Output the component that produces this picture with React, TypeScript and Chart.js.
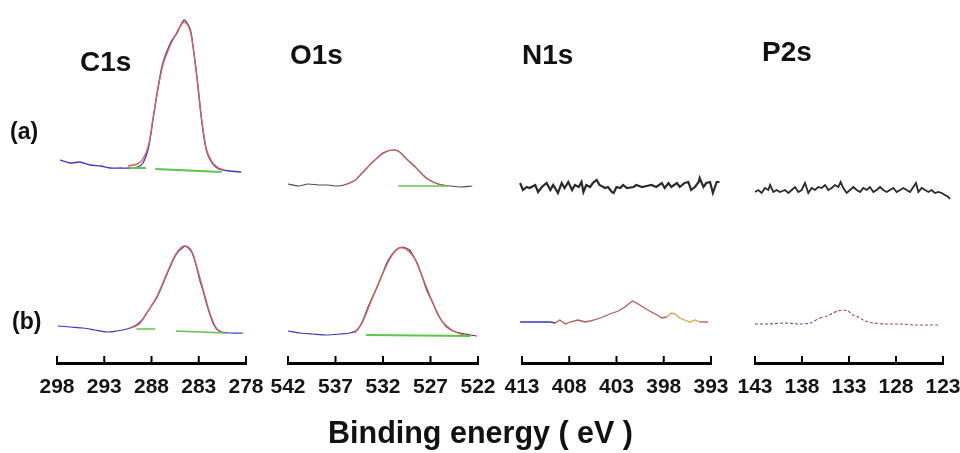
import React, { useEffect, useRef } from "react";
import { Chart, registerables } from "chart.js";
Chart.register(...registerables);

// ---------- tick labels (binding energy, eV) ----------
const C1S_TICKS = [298, 293, 288, 283, 278];
const O1S_TICKS = [542, 537, 532, 527, 522];
const N1S_TICKS = [413, 408, 403, 398, 393];
const P2S_TICKS = [143, 138, 133, 128, 123];

// ---------- C1s ----------
const c1sA_E = [297.7, 296.6, 295.6, 294.5, 293.4, 292.4, 291.3, 290.3, 289.5, 288.9, 288.3, 287.8, 287.3, 286.8, 286.0, 285.3, 284.8, 284.5, 284.1, 283.8, 283.2, 282.7, 282.2, 281.6, 280.9, 279.7, 278.5];
const c1sA_I = [203, 200, 201, 198, 197, 195, 195, 195, 196, 200, 216, 246, 276, 300, 320, 330, 340, 343, 338, 330, 286, 243, 213, 200, 194, 192, 191];
const c1sAFit_E = [290.5, 289.5, 288.9, 288.3, 287.8, 287.3, 286.8, 286.0, 285.3, 284.8, 284.5, 284.1, 283.8, 283.2, 282.7, 282.2, 281.6, 280.9, 280.3];
const c1sAFit_I = [197, 199, 204, 218, 247, 275, 298, 318, 331, 339, 341, 337, 328, 287, 244, 214, 201, 195, 193];
const c1sABase_E = [290.3, 288.6, 288.0, 287.6, 280.6];
const c1sABase_I = [195, 195, null, 194, 191];

const c1sB_E = [297.9, 296.6, 295.2, 294.0, 292.7, 291.7, 290.6, 289.6, 289.0, 288.5, 287.4, 286.4, 285.7, 285.2, 284.6, 284.5, 284.1, 283.7, 283.2, 282.9, 282.5, 282.2, 281.8, 281.5, 281.1, 280.6, 279.7, 278.3];
const c1sB_I = [37, 36, 35, 33, 31, 32, 34, 38, 43, 50, 66, 88, 103, 111, 116, 117, 115, 110, 95, 83, 71, 60, 48, 40, 34, 31, 30, 30];
const c1sBFit_E = [290.2, 289.3, 288.5, 287.4, 286.4, 285.7, 285.2, 284.6, 284.1, 283.7, 283.2, 282.5, 281.8, 281.1, 280.4];
const c1sBFit_I = [35, 39, 50, 67, 89, 104, 112, 117, 116, 111, 96, 72, 49, 34, 30];
const c1sBBase_E = [289.6, 287.6, 287.0, 285.4, 280.2];
const c1sBBase_I = [34, 34, null, 32, 30];

// ---------- O1s ----------
const o1sA_E = [542.0, 540.9, 539.9, 538.8, 537.8, 536.7, 535.8, 534.9, 534.4, 533.7, 533.1, 532.5, 532.0, 531.5, 530.9, 530.4, 529.9, 529.4, 528.8, 528.3, 527.8, 527.3, 526.7, 526.2, 525.7, 524.9, 523.9, 522.6];
const o1sA_I = [179, 177, 179, 178, 178, 177, 179, 183, 188, 195, 201, 206, 210, 212, 213, 212, 208, 203, 198, 193, 188, 184, 181, 179, 178, 177, 176, 177];
const o1sAFit_E = [536.0, 534.9, 533.7, 532.5, 531.5, 530.9, 530.4, 529.4, 528.3, 527.3, 526.2, 525.2];
const o1sAFit_I = [178, 183, 195, 206, 212, 213, 212, 203, 193, 184, 179, 177];
const o1sABase_E = [530.4, 525.3];
const o1sABase_I = [177, 177];

const o1sB_E = [542.0, 540.7, 539.4, 537.9, 536.5, 535.5, 534.7, 534.2, 533.7, 533.2, 532.6, 532.1, 531.6, 531.1, 530.5, 530.0, 529.6, 529.2, 528.7, 528.4, 527.9, 527.4, 526.8, 526.3, 525.8, 525.3, 524.6, 523.9, 522.8, 522.1];
const o1sB_I = [32, 30, 29, 28, 29, 30, 33, 41, 53, 64, 76, 88, 100, 108, 114, 116, 115, 113, 105, 100, 87, 73, 61, 50, 42, 36, 32, 30, 28, 27];
const o1sBFit_E = [535.0, 534.2, 533.2, 532.1, 531.1, 530.3, 529.6, 528.7, 527.9, 526.8, 525.8, 524.6, 523.5];
const o1sBFit_I = [30, 40, 63, 88, 107, 115, 114, 105, 87, 61, 42, 32, 28];
const o1sBBase_E = [533.8, 522.8];
const o1sBBase_I = [28, 27];

// ---------- N1s ----------
const n1sA_E = [413.2, 412.9, 412.5, 412.2, 411.6, 411.3, 410.9, 410.4, 410.0, 409.7, 409.2, 408.8, 408.5, 408.1, 407.7, 407.4, 407.0, 406.7, 406.5, 406.2, 405.8, 405.5, 405.1, 404.8, 404.2, 403.9, 403.5, 403.3, 403.0, 402.6, 402.3, 401.9, 401.2, 400.9, 400.3, 399.8, 399.3, 398.8, 398.2, 397.9, 397.5, 397.2, 396.6, 396.3, 395.8, 395.4, 395.1, 394.7, 394.3, 394.2, 393.8, 393.5, 393.1, 392.8, 392.4, 392.1];
const n1sA_I = [180, 173, 176, 175, 178, 171, 176, 180, 173, 178, 170, 180, 175, 181, 173, 178, 176, 181, 171, 178, 176, 180, 183, 178, 175, 176, 171, 170, 176, 175, 178, 175, 176, 178, 176, 177, 178, 176, 180, 175, 180, 176, 180, 176, 180, 181, 173, 176, 181, 185, 176, 180, 181, 170, 181, 181];

const n1sB_E = [413.2, 411.6, 410.0, 409.5, 409.0, 408.4, 407.9, 407.1, 406.3, 405.8, 404.7, 403.7, 402.8, 402.1, 401.6, 401.3, 400.7, 400.2, 399.5, 398.7, 398.2, 397.7, 397.2, 396.8, 396.3, 395.8, 395.2, 394.7, 394.2, 393.3];
const n1sB_I = [41, 41, 41, 40, 43, 39, 41, 43, 41, 42, 45, 49, 52, 56, 60, 62, 59, 56, 52, 48, 45, 46, 50, 49, 45, 43, 41, 43, 41, 41];

// ---------- P2s ----------
const p2sA_E = [143.0, 142.65, 142.29, 141.94, 141.58, 141.4, 141.05, 140.7, 140.34, 139.81, 139.45, 139.1, 138.74, 138.39, 138.04, 137.68, 137.33, 136.97, 136.62, 136.26, 135.91, 135.55, 135.2, 134.84, 134.49, 134.13, 133.89, 133.6, 133.25, 132.89, 132.54, 132.18, 131.83, 131.48, 131.12, 130.77, 130.41, 130.06, 129.7, 129.35, 128.99, 128.64, 128.28, 127.93, 127.57, 127.22, 126.87, 126.51, 126.16, 125.87, 125.62, 125.27, 124.91, 124.56, 124.21, 123.85, 123.5, 123.14, 122.79, 122.43, 122.26];
const p2sA_I = [171, 173, 170, 175, 173, 178, 171, 173, 171, 173, 170, 173, 176, 171, 173, 180, 170, 175, 173, 176, 175, 178, 173, 175, 178, 176, 181, 175, 170, 173, 176, 173, 171, 175, 173, 176, 171, 173, 176, 173, 171, 173, 175, 171, 173, 175, 173, 171, 176, 180, 171, 175, 173, 171, 173, 170, 171, 170, 168, 166, 164];

const p2sB_E = [143.0, 141.4, 139.8, 138.2, 137.1, 136.1, 135.3, 134.7, 134.2, 133.6, 133.1, 132.6, 132.0, 131.5, 131.0, 130.4, 129.2, 127.6, 126.0, 123.5];
const p2sB_I = [39, 39, 40, 39, 40, 45, 47, 50, 52, 53, 52, 48, 46, 43, 41, 40, 39, 39, 38, 38];

// ---------- styling ----------
const BLUE = "#3a3abf";
const RED = "#d3625c";
const GREEN = "#5cc84a";
const DARK = "#2a2a2a";
const ORANGE = "#e0a040";
const TICK_FONT = "'Liberation Sans', Arial, Helvetica, sans-serif";
const TEXT_FONT = "'Liberation Sans', Arial, Helvetica, sans-serif";

const PAD = 34; // canvas margin around each plot area (>= half label + tick padding)
const CANVAS_H = 453;
const AREA_TOP = 3;
const AREA_BOTTOM = 363;

const pts = (E: number[], I: (number | null)[]) => E.map((e, i) => ({ x: e, y: I[i] }));

const line = (data: any, color: string, width: number, extra: any = {}) => ({
  data,
  borderColor: color,
  borderWidth: width,
  pointRadius: 0,
  fill: false,
  tension: 0.25,
  spanGaps: false,
  clip: 12,
  ...extra,
});

const innerTicks = {
  id: "innerTicks",
  afterDraw(chart: any) {
    const s = chart.scales.x;
    const ctx = chart.ctx;
    const b = chart.chartArea.bottom;
    ctx.save();
    ctx.strokeStyle = "#000";
    ctx.lineWidth = 2;
    s.ticks.forEach((_: any, i: number) => {
      const px = s.getPixelForTick(i);
      ctx.beginPath();
      ctx.moveTo(px, b);
      ctx.lineTo(px, b - 7);
      ctx.stroke();
    });
    ctx.restore();
  },
};

type PanelProps = { left: number; width: number; ticks: number[]; datasets: any[] };

function Panel({ left, width, ticks, datasets }: PanelProps) {
  const ref = useRef<HTMLCanvasElement>(null);
  const W = width + 2 * PAD;
  useEffect(() => {
    if (!ref.current) return;
    const lo = Math.min(...ticks);
    const hi = Math.max(...ticks);
    const padding = { left: PAD, right: PAD, top: AREA_TOP, bottom: 50 };
    const chart = new Chart(ref.current, {
      type: "line",
      data: { datasets },
      plugins: [innerTicks],
      options: {
        responsive: false,
        animation: false,
        layout: { padding: { ...padding } },
        plugins: { legend: { display: false }, tooltip: { enabled: false } },
        scales: {
          x: {
            type: "linear",
            reverse: true,
            min: lo,
            max: hi,
            afterBuildTicks: (s: any) => {
              s.ticks = ticks.map((v) => ({ value: v }));
            },
            afterFit: (s: any) => {
              s.height = 40;
            },
            grid: { display: true, drawOnChartArea: false, drawTicks: false },
            border: { display: true, color: "#000", width: 3 },
            ticks: {
              padding: 12,
              color: "#151515",
              font: { family: TICK_FONT, size: 21, weight: "bold" },
              maxRotation: 0,
              autoSkip: false,
            },
          },
          y: { display: false, min: 0, max: 360 },
        },
      },
    });
    // make the plot area land exactly on the intended box
    for (let k = 0; k < 4; k++) {
      const ca = chart.chartArea;
      const dl = ca.left - PAD;
      const dr = W - PAD - ca.right;
      const dt = ca.top - AREA_TOP;
      const db = AREA_BOTTOM - ca.bottom;
      if (Math.abs(dl) < 0.3 && Math.abs(dr) < 0.3 && Math.abs(dt) < 0.3 && Math.abs(db) < 0.3) break;
      padding.left -= dl;
      padding.right -= dr;
      padding.top -= dt;
      padding.bottom -= db;
      (chart.options as any).layout.padding = { ...padding };
      chart.update();
    }
    return () => chart.destroy();
  }, []);
  return (
    <canvas
      ref={ref}
      width={W}
      height={CANVAS_H}
      style={{ position: "absolute", left: left - PAD, top: 0, width: W, height: CANVAS_H }}
    />
  );
}

const label = (text: string, left: number, top: number, size: number, extra: any = {}) => (
  <div
    style={{
      position: "absolute",
      left,
      top,
      fontFamily: TEXT_FONT,
      fontWeight: "bold",
      fontSize: size,
      lineHeight: `${size}px`,
      color: "#111",
      whiteSpace: "nowrap",
      ...extra,
    }}
  >
    {text}
  </div>
);

export default function App() {
  const c1s = [
    line(pts(c1sABase_E, c1sABase_I), GREEN, 2),
    line(pts(c1sAFit_E, c1sAFit_I), RED, 1.4),
    line(pts(c1sA_E, c1sA_I), BLUE, 1.3),
    line(pts(c1sBBase_E, c1sBBase_I), GREEN, 1.6),
    line(pts(c1sBFit_E, c1sBFit_I), RED, 1.4),
    line(pts(c1sB_E, c1sB_I), BLUE, 1.2),
  ];
  const o1s = [
    line(pts(o1sABase_E, o1sABase_I), GREEN, 1.6),
    line(pts(o1sAFit_E, o1sAFit_I), RED, 1.2),
    line(pts(o1sA_E, o1sA_I), "#5a4458", 1.1),
    line(pts(o1sBBase_E, o1sBBase_I), GREEN, 1.8),
    line(pts(o1sBFit_E, o1sBFit_I), RED, 1.4),
    line(pts(o1sB_E, o1sB_I), BLUE, 1.2, {
      segment: { borderColor: (c: any) => (c.p0.parsed.x > 534 ? BLUE : "#5a3a60") },
    }),
  ];
  const n1s = [
    line(pts(n1sA_E, n1sA_I), DARK, 2.2, { tension: 0 }),
    line(pts(n1sB_E, n1sB_I), RED, 1.3, {
      tension: 0,
      segment: {
        borderColor: (c: any) => {
          const x = c.p0.parsed.x;
          if (x > 409.8) return BLUE;
          if (x < 397.8 && x > 394.5) return ORANGE;
          return "#b05a5a";
        },
      },
    }),
  ];
  const p2s = [
    line(pts(p2sA_E, p2sA_I), DARK, 1.8, { tension: 0 }),
    line(pts(p2sB_E, p2sB_I), "#8a4a70", 1.1, {
      borderDash: [3, 2],
      segment: { borderColor: (c: any) => (c.p0.parsed.x > 137 ? "#5050b0" : "#a04a60") },
    }),
  ];

  return (
    <div style={{ position: "absolute", left: 0, top: 0, width: 960, height: 453, background: "#fff", overflow: "hidden" }}>
      <Panel left={57} width={189} ticks={C1S_TICKS} datasets={c1s} />
      <Panel left={288} width={190} ticks={O1S_TICKS} datasets={o1s} />
      <Panel left={522} width={189} ticks={N1S_TICKS} datasets={n1s} />
      <Panel left={755} width={188} ticks={P2S_TICKS} datasets={p2s} />
      {label("C1s", 80, 48, 28)}
      {label("O1s", 290, 41, 28)}
      {label("N1s", 522, 41, 28)}
      {label("P2s", 762, 38, 28)}
      {label("(a)", 10, 120, 23)}
      {label("(b)", 12, 310, 23)}
      {label("Binding energy ( eV )", 328, 417, 30.5)}
    </div>
  );
}
